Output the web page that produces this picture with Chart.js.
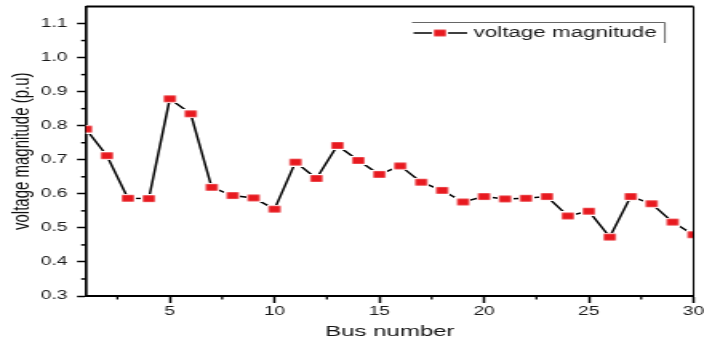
<!DOCTYPE html>
<html>
<head>
<meta charset="utf-8">
<script src="https://cdn.jsdelivr.net/npm/chart.js@4.4.1/dist/chart.umd.min.js"></script>
<style>
  html, body { margin: 0; padding: 0; background: #fff; overflow: hidden; }
  #chart { display: block; }
</style>
</head>
<body>
<!-- drawn on a narrow bitmap and widened by CSS, giving the wide lettering and flat markers -->
<canvas id="chart" width="440" height="345" style="width:704px;height:345px"></canvas>
<script>
// Bus voltage profile of the 30-bus system
const busNumbers = [1, 2, 3, 4, 5, 6, 7, 8, 9, 10, 11, 12, 13, 14, 15,
                    16, 17, 18, 19, 20, 21, 22, 23, 24, 25, 26, 27, 28, 29, 30];
const voltageMagnitude = [0.790, 0.712, 0.587, 0.586, 0.879, 0.835, 0.619, 0.595, 0.588, 0.555,
                          0.693, 0.645, 0.742, 0.698, 0.657, 0.682, 0.634, 0.610, 0.576, 0.592,
                          0.585, 0.587, 0.592, 0.535, 0.549, 0.473, 0.592, 0.571, 0.517, 0.480];
const seriesLabel = 'voltage magnitude';
const xTitle = 'Bus number';
const yTitle = 'voltage magnitude (p.u)';
const xMajorTicks = [5, 10, 15, 20, 25, 30];
const xMinorTicks = [2.5, 7.5, 12.5, 17.5, 22.5, 27.5];
const yMajorTicks = [0.3, 0.4, 0.5, 0.6, 0.7, 0.8, 0.9, 1.0, 1.1];
const yMinorTicks = [0.35, 0.45, 0.55, 0.65, 0.75, 0.85, 0.95, 1.05];

const FONT = "'Liberation Sans', Arial, Helvetica, sans-serif";
const RED = '#e8191f';

// square marker with a thin white halo so the line stops short of it
function makeMarker() {
  const c = document.createElement('canvas');
  c.width = 10; c.height = 9;
  const g = c.getContext('2d');
  g.fillStyle = '#ffffff';
  g.fillRect(0, 0, 10, 9);
  g.fillStyle = RED;
  g.fillRect(1.3, 1.2, 7.4, 6.6);
  return c;
}
const marker = makeMarker();

const framePlugin = {
  id: 'frameTicksLegend',
  afterDraw(chart) {
    const { ctx, chartArea: a, scales: { x, y } } = chart;
    ctx.save();
    ctx.strokeStyle = '#000';
    // top and right edges of the frame
    ctx.lineWidth = 2;
    ctx.beginPath();
    ctx.moveTo(a.left, a.top);
    ctx.lineTo(a.right, a.top);
    ctx.stroke();
    ctx.lineWidth = 1.1;
    ctx.beginPath();
    ctx.moveTo(a.right, a.top);
    ctx.lineTo(a.right, a.bottom);
    ctx.stroke();
    // minor tick marks
    ctx.lineWidth = 1.3;
    xMinorTicks.forEach(v => {
      const px = x.getPixelForValue(v);
      ctx.beginPath();
      ctx.moveTo(px, a.bottom);
      ctx.lineTo(px, a.bottom + 3.5);
      ctx.stroke();
    });
    ctx.lineWidth = 1.5;
    yMinorTicks.forEach(v => {
      const py = y.getPixelForValue(v);
      ctx.beginPath();
      ctx.moveTo(a.left, py);
      ctx.lineTo(a.left - 3, py);
      ctx.stroke();
    });
    // legend box
    const lx = 257.5, ly = 22.5, rx = 415.6, by = 43;
    ctx.strokeStyle = '#666';
    ctx.lineWidth = 1;
    ctx.beginPath();
    ctx.moveTo(lx, ly);
    ctx.lineTo(rx, ly);
    ctx.lineTo(rx, by);
    ctx.stroke();
    const cy = 33;
    ctx.strokeStyle = '#000';
    ctx.lineWidth = 1.5;
    ctx.beginPath();
    ctx.moveTo(258.5, cy);
    ctx.lineTo(292, cy);
    ctx.stroke();
    ctx.drawImage(marker, 275 - marker.width / 2, cy - marker.height / 2);
    ctx.fillStyle = '#1a1a1a';
    ctx.font = '14px ' + FONT;
    ctx.textBaseline = 'middle';
    ctx.textAlign = 'left';
    ctx.fillText(chart.data.datasets[0].label, 296, cy);
    ctx.restore();
  }
};

new Chart(document.getElementById('chart'), {
  type: 'line',
  data: {
    datasets: [{
      label: seriesLabel,
      data: busNumbers.map((b, i) => ({ x: b, y: voltageMagnitude[i] })),
      borderColor: '#000',
      borderWidth: 1.5,
      pointStyle: marker,
      pointRadius: 5,
      pointHoverRadius: 5,
      tension: 0,
      clip: 0
    }]
  },
  options: {
    responsive: false,
    animation: false,
    devicePixelRatio: 1,
    events: [],
    layout: { padding: { top: 6, right: 4.4, bottom: 0, left: 0 } },
    plugins: { legend: { display: false }, tooltip: { enabled: false } },
    scales: {
      x: {
        type: 'linear',
        min: 1,
        max: 30,
        afterBuildTicks: s => { s.ticks = xMajorTicks.map(value => ({ value })); },
        afterFit: s => { s.height = 49; s.paddingLeft = 0; s.paddingRight = 0; },
        border: { display: true, color: '#000', width: 2 },
        grid: { display: true, drawOnChartArea: false, drawTicks: true, tickLength: 7, tickWidth: 1.5, tickColor: '#000' },
        ticks: {
          autoSkip: false, maxRotation: 0, padding: 1,
          color: '#1a1a1a', font: { family: FONT, size: 12 },
          callback: v => String(v)
        },
        title: {
          display: true, text: xTitle, color: '#111',
          font: { family: FONT, size: 15 }, padding: { top: 0, bottom: 4 }
        }
      },
      y: {
        type: 'linear',
        min: 0.3,
        max: 1.15,
        afterBuildTicks: s => { s.ticks = yMajorTicks.map(value => ({ value })); },
        afterFit: s => { s.width = 53.75; s.paddingTop = 0; s.paddingBottom = 0; },
        border: { display: true, color: '#000', width: 1.7 },
        grid: { display: true, drawOnChartArea: false, drawTicks: true, tickLength: 5.6, tickWidth: 1.5, tickColor: '#000' },
        ticks: {
          autoSkip: false, padding: 6,
          color: '#1a1a1a', font: { family: FONT, size: 12 },
          callback: v => Number(v).toFixed(1)
        },
        title: {
          display: true, text: yTitle, color: '#111',
          font: { family: FONT, size: 15 }, padding: { top: 5, bottom: 0 }
        }
      }
    }
  },
  plugins: [framePlugin]
});
</script>
</body>
</html>
